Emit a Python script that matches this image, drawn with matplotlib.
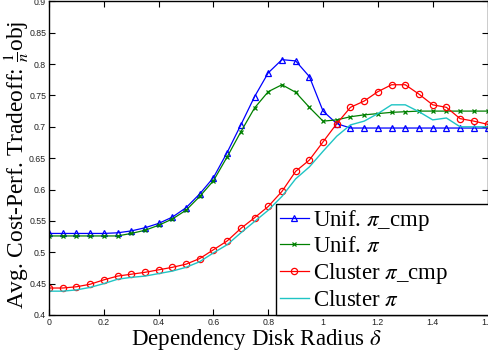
import matplotlib
matplotlib.use("Agg")
import matplotlib.pyplot as plt

plt.rcParams["mathtext.fontset"] = "stix"

# dependency disk radius (x axis)
radius = [0.00, 0.05, 0.10, 0.15, 0.20, 0.25, 0.30, 0.35, 0.40, 0.45, 0.50,
          0.55, 0.60, 0.65, 0.70, 0.75, 0.80, 0.85, 0.90, 0.95, 1.00,
          1.05, 1.10, 1.15, 1.20, 1.25, 1.30, 1.35, 1.40, 1.45, 1.50,
          1.55, 1.60]

unif_cmp = [0.530, 0.530, 0.530, 0.530, 0.530, 0.531, 0.534, 0.539, 0.546, 0.556, 0.571,
            0.593, 0.619, 0.659, 0.703, 0.748, 0.786, 0.807, 0.805, 0.780, 0.725,
            0.705, 0.698, 0.698, 0.698, 0.698, 0.698, 0.698, 0.698, 0.698, 0.698,
            0.698, 0.698]

unif = [0.526, 0.526, 0.526, 0.526, 0.526, 0.526, 0.530, 0.535, 0.543, 0.553, 0.567,
        0.589, 0.614, 0.652, 0.692, 0.730, 0.756, 0.767, 0.755, 0.731, 0.709,
        0.711, 0.716, 0.719, 0.721, 0.723, 0.724, 0.725, 0.725, 0.725, 0.725,
        0.725, 0.725]

cluster_cmp = [0.443, 0.443, 0.445, 0.449, 0.456, 0.462, 0.465, 0.468, 0.472, 0.476, 0.481,
               0.490, 0.504, 0.518, 0.538, 0.555, 0.573, 0.597, 0.629, 0.647, 0.676,
               0.705, 0.731, 0.741, 0.756, 0.767, 0.767, 0.752, 0.735, 0.731, 0.713,
               0.709, 0.704]

cluster = [0.438, 0.438, 0.440, 0.444, 0.450, 0.457, 0.460, 0.462, 0.466, 0.470, 0.476,
           0.485, 0.499, 0.512, 0.531, 0.549, 0.567, 0.589, 0.617, 0.636, 0.661,
           0.685, 0.703, 0.709, 0.721, 0.735, 0.735, 0.724, 0.711, 0.714, 0.700,
           0.700, 0.700]

xticks = [0, 0.2, 0.4, 0.6, 0.8, 1.0, 1.2, 1.4, 1.6]
xticklabels = ["0", "0.2", "0.4", "0.6", "0.8", "1", "1.2", "1.4", "1.6"]
yticks = [0.4, 0.45, 0.5, 0.55, 0.6, 0.65, 0.7, 0.75, 0.8, 0.85, 0.9]
yticklabels = ["0.4", "0.45", "0.5", "0.55", "0.6", "0.65", "0.7", "0.75", "0.8", "0.85", "0.9"]

W, H = 488, 355
AX_L, AX_B, AX_W, AX_H = 49, 315, 438.5, 313.7   # pixels, bottom measured from top
fig = plt.figure(figsize=(W / 100, H / 100), dpi=100)
ax = fig.add_axes([AX_L / W, 1 - AX_B / H, AX_W / W, AX_H / H])

ax.plot(radius, unif_cmp, color="#0000ff", lw=0.9, marker="^", ms=5,
        mfc="none", mew=0.9, label=r"Unif. $\pi$_cmp")
ax.plot(radius, unif, color="#008000", lw=0.9, marker="x", ms=3.5,
        mew=0.9, label=r"Unif. $\pi$")
ax.plot(radius, cluster_cmp, color="#ff0000", lw=0.9, marker="o", ms=4.5,
        mfc="none", mew=0.9, label=r"Cluster $\pi$_cmp")
ax.plot(radius, cluster, color="#1fc4c4", lw=1.0, label=r"Cluster $\pi$")

ax.set_xlim(0, 1.6)
ax.set_ylim(0.4, 0.9)
ax.set_xticks(xticks)
ax.set_xticklabels(xticklabels)
ax.set_yticks(yticks)
ax.set_yticklabels(yticklabels)
ax.tick_params(direction="in", top=True, right=True, length=4, width=0.8,
               labelsize=6.3, labelcolor="#222222", pad=2)
for lab in ax.get_xticklabels() + ax.get_yticklabels():
    lab.set_fontfamily("Liberation Sans")
for s in ax.spines.values():
    s.set_linewidth(1.0)

ax.set_xlabel(r"Dependency Disk Radius $\delta$", fontfamily="Liberation Serif",
              fontsize=16.5)
ax.xaxis.set_label_coords((256.5 - AX_L) / AX_W, (AX_B - 327) / AX_H)
ax.set_ylabel(r"Avg. Cost-Perf. Tradeoff: $\frac{1}{n}$obj", fontfamily="Liberation Serif",
              fontsize=16.8)
ax.yaxis.set_label_coords((30.6 - AX_L) / AX_W, (AX_B - 165) / AX_H)

# legend frame runs past the right edge of the figure
x0 = (276 - AX_L) / AX_W
y1 = (AX_B - 202.7) / AX_H
leg = ax.legend(loc="lower left", bbox_to_anchor=(x0, 0, 1.05 - x0, y1), mode="expand",
                prop={"family": "Liberation Serif", "size": 16.5}, numpoints=1,
                handlelength=1.25, handletextpad=0.2, labelspacing=0.16,
                borderpad=0.18, borderaxespad=0, fancybox=False, framealpha=1)
leg.get_frame().set_edgecolor("black")
leg.get_frame().set_linewidth(1.0)

fig.savefig("out.png", dpi=100)
